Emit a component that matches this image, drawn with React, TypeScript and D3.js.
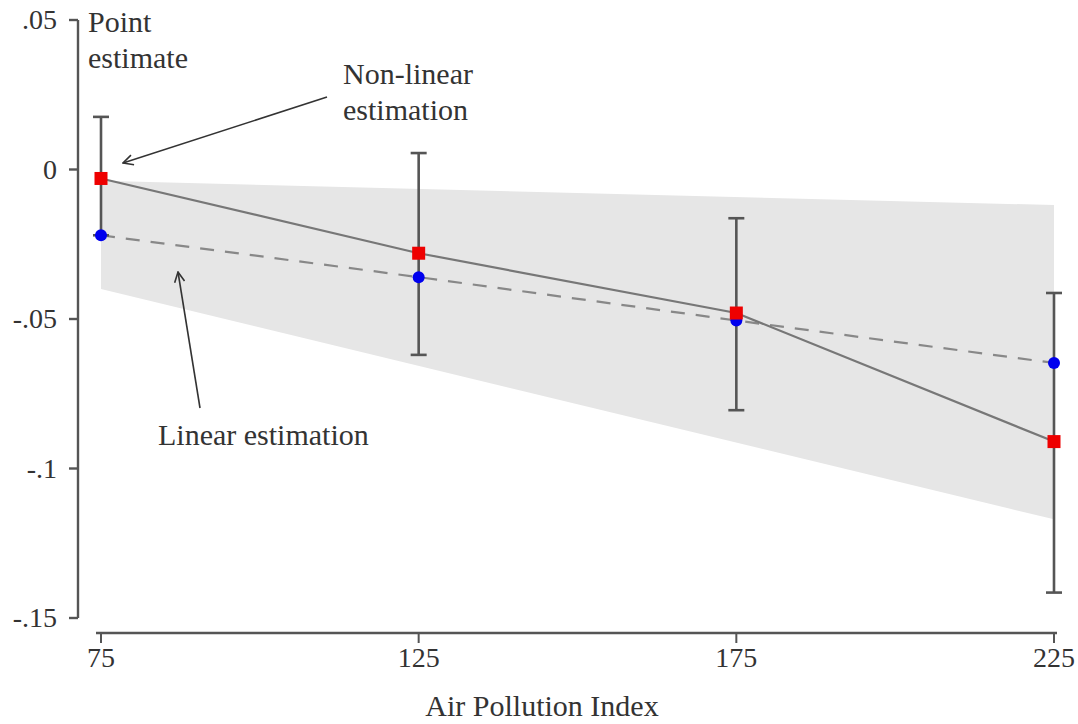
import React from "react";
import * as d3 from "d3";

const xTicks = [75, 125, 175, 225];
const yTicks = [0.05, 0, -0.05, -0.1, -0.15];
const yTickLabels = [".05", "0", "-.05", "-.1", "-.15"];
const pollution = [75, 125, 175, 225];
const nonLinear = [-0.003, -0.028, -0.048, -0.091];
const ciLow = [-0.022, -0.062, -0.0805, -0.1415];
const ciHigh = [0.0176, 0.0055, -0.0163, -0.0413];
const linear = [-0.022, -0.036, -0.0505, -0.0647];
const bandX = [75, 225];
const bandLow = [-0.040, -0.117];
const bandHigh = [-0.0038, -0.0119];

const W = 1078;
const H = 724;
const FONT = "'Liberation Serif', 'DejaVu Serif', serif";

export default function App() {
  const x = d3.scaleLinear().domain([75, 225]).range([101, 1054]);
  const y = d3.scaleLinear().domain([-0.15, 0.05]).range([618, 20]);

  const band = d3
    .area<number>()
    .x((_, i) => x(bandX[i]))
    .y0((_, i) => y(bandLow[i]))
    .y1((_, i) => y(bandHigh[i]))(bandX);

  const line = d3.line<number>().x((_, i) => x(pollution[i])).y((d) => y(d));

  const textColor = "#333";
  const axisColor = "#555";
  const fs = 30;

  return (
    <svg width={W} height={H} style={{ position: "absolute", left: 0, top: 0, background: "#fff" }}>
      <defs>
        <marker id="arr" viewBox="0 0 12 12" refX="11" refY="6" markerWidth="12" markerHeight="12" markerUnits="userSpaceOnUse" orient="auto">
          <path d="M1,1 L11,6 L1,11" fill="none" stroke="#333" strokeWidth={1.6} />
        </marker>
      </defs>
      <path d={band || ""} fill="#e6e6e6" />
      <path d={line(linear) || ""} fill="none" stroke="#888" strokeWidth={2.2} strokeDasharray="14,11" />
      <path d={line(nonLinear) || ""} fill="none" stroke="#777" strokeWidth={2.2} />
      {pollution.map((p, i) => (
        <g key={"e" + i} stroke="#555" strokeWidth={2.6}>
          <line x1={x(p)} x2={x(p)} y1={y(ciHigh[i])} y2={y(ciLow[i])} />
          <line x1={x(p) - 8} x2={x(p) + 8} y1={y(ciHigh[i])} y2={y(ciHigh[i])} />
          <line x1={x(p) - 8} x2={x(p) + 8} y1={y(ciLow[i])} y2={y(ciLow[i])} />
        </g>
      ))}
      {pollution.map((p, i) => (
        <circle key={"c" + i} cx={x(p)} cy={y(linear[i])} r={6} fill="#0000ee" />
      ))}
      {pollution.map((p, i) => (
        <rect key={"r" + i} x={x(p) - 6.5} y={y(nonLinear[i]) - 6.5} width={13} height={13} fill="#ee0000" />
      ))}
      <line x1={78} x2={78} y1={y(0.05)} y2={y(-0.15)} stroke={axisColor} strokeWidth={2.4} />
      {yTicks.map((t, i) => (
        <g key={"yt" + i}>
          <line x1={69} x2={78} y1={y(t)} y2={y(t)} stroke={axisColor} strokeWidth={2.4} />
          <text x={57} y={y(t) + 9} textAnchor="end" fontFamily={FONT} fontSize={28} fill={textColor}>
            {yTickLabels[i]}
          </text>
        </g>
      ))}
      <line x1={96} x2={1057} y1={633} y2={633} stroke={axisColor} strokeWidth={2.4} />
      {xTicks.map((t) => (
        <g key={"xt" + t}>
          <line x1={x(t)} x2={x(t)} y1={633} y2={643} stroke={axisColor} strokeWidth={2} />
          <text x={x(t)} y={667} textAnchor="middle" fontFamily={FONT} fontSize={28} fill={textColor}>
            {t}
          </text>
        </g>
      ))}
      <text x={542} y={716} textAnchor="middle" fontFamily={FONT} fontSize={fs} fill={textColor}>
        Air Pollution Index
      </text>
      <text x={88} y={32} fontFamily={FONT} fontSize={fs} fill={textColor}>Point</text>
      <text x={88} y={68} fontFamily={FONT} fontSize={fs} fill={textColor}>estimate</text>
      <text x={343} y={84} fontFamily={FONT} fontSize={fs} fill={textColor}>Non-linear</text>
      <text x={343} y={120} fontFamily={FONT} fontSize={fs} fill={textColor}>estimation</text>
      <text x={158} y={445} fontFamily={FONT} fontSize={fs} fill={textColor}>Linear estimation</text>
      <line x1={327} y1={97} x2={123} y2={163} stroke="#333" strokeWidth={1.6} markerEnd="url(#arr)" />
      <line x1={200} y1={408} x2={178} y2={272} stroke="#333" strokeWidth={1.6} markerEnd="url(#arr)" />
    </svg>
  );
}
